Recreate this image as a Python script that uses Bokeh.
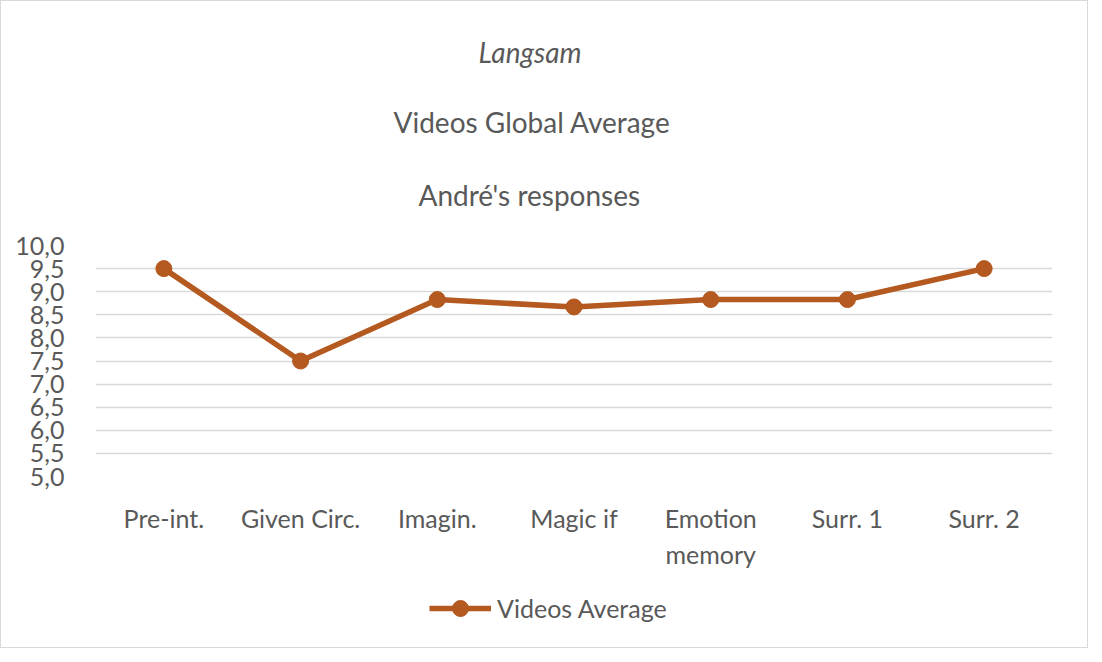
from bokeh.plotting import figure
from bokeh.layouts import column
from bokeh.models import (FactorRange, Range1d, FixedTicker, CustomJSTickFormatter,
                          Legend, LegendItem, Title)
from bokeh.embed import file_html
from bokeh.resources import INLINE

categories = ["Pre-int.", "Given Circ.", "Imagin.", "Magic if", "Emotion\nmemory", "Surr. 1", "Surr. 2"]
values = [9.5, 7.5, 8.83, 8.67, 8.83, 8.83, 9.5]
y_ticks = [5.0, 5.5, 6.0, 6.5, 7.0, 7.5, 8.0, 8.5, 9.0, 9.5, 10.0]
series_name = "Videos Average"
titles = ["Langsam", "Videos Global Average", "André's responses"]

FONT = "Lato"
TXT = "#595959"
COLOR = "#B4591F"

p = figure(width=1086, height=570, output_backend="svg", toolbar_location=None,
           x_range=FactorRange(factors=categories, range_padding=0),
           y_range=Range1d(5.0, 10.0), title=None)
p.min_border_left = 94
p.min_border_right = 35
p.min_border_top = 244
p.min_border_bottom = 90
p.outline_line_color = None

line = p.line(categories, values, line_color=COLOR, line_width=5.5)
pts = p.scatter(categories, values, size=16, fill_color=COLOR, line_color=COLOR)

# axes
p.yaxis.ticker = FixedTicker(ticks=y_ticks)
p.yaxis.formatter = CustomJSTickFormatter(code="return tick.toFixed(1).replace('.', ',');")
for ax in (p.xaxis[0], p.yaxis[0]):
    ax.axis_line_color = None
    ax.major_tick_line_color = None
    ax.minor_tick_line_color = None
    ax.major_label_text_font = FONT
    ax.major_label_text_color = TXT
p.yaxis.major_label_text_font_size = "25px"
p.xaxis.major_label_text_font_size = "25px"
p.yaxis.major_label_standoff = 25
p.xaxis.major_label_standoff = 20
p.xgrid.grid_line_color = None
p.ygrid.grid_line_color = "#d9d9d9"
p.ygrid.grid_line_width = 1.5

# titles: added innermost first; left-aligned with offsets so they centre at x~529
title_offsets = {"Langsam": 383, "Videos Global Average": 298, "André's responses": 323}
title_standoffs = {"Langsam": 59, "Videos Global Average": 9, "André's responses": 65}
for t in reversed(titles):
    p.add_layout(Title(text=t, align="left", vertical_align="middle", offset=title_offsets[t],
                       standoff=title_standoffs[t], text_font=FONT, text_font_size="28px",
                       text_color=TXT,
                       text_font_style="italic" if t == "Langsam" else "normal"), "above")

# legend in a small figure below (proxy renderers of the same series, outside its view)
lf = figure(width=1086, height=76, output_backend="svg", toolbar_location=None,
            x_range=FactorRange(factors=categories, range_padding=0), y_range=Range1d(50, 51),
            x_axis_type=None, y_axis_type=None, title=None)
lf.min_border = 0
lf.outline_line_color = None
lf.xgrid.visible = False
lf.ygrid.visible = False
lline = lf.line(categories, values, line_color=COLOR, line_width=5.5)
lpts = lf.scatter(categories, values, size=16, fill_color=COLOR, line_color=COLOR)
legend = Legend(items=[LegendItem(label=series_name, renderers=[lline, lpts])],
                location=(334, 19), orientation="horizontal",
                label_text_font=FONT, label_text_font_size="25px", label_text_color=TXT,
                glyph_width=62, glyph_height=40, border_line_color=None, background_fill_alpha=0,
                margin=0, padding=0, label_standoff=6)
lf.add_layout(legend, "center")

layout = column(p, lf, spacing=0)
layout.styles = {"border": "1px solid #d9d9d9"}

open("out.html", "w").write(file_html(layout, INLINE))
